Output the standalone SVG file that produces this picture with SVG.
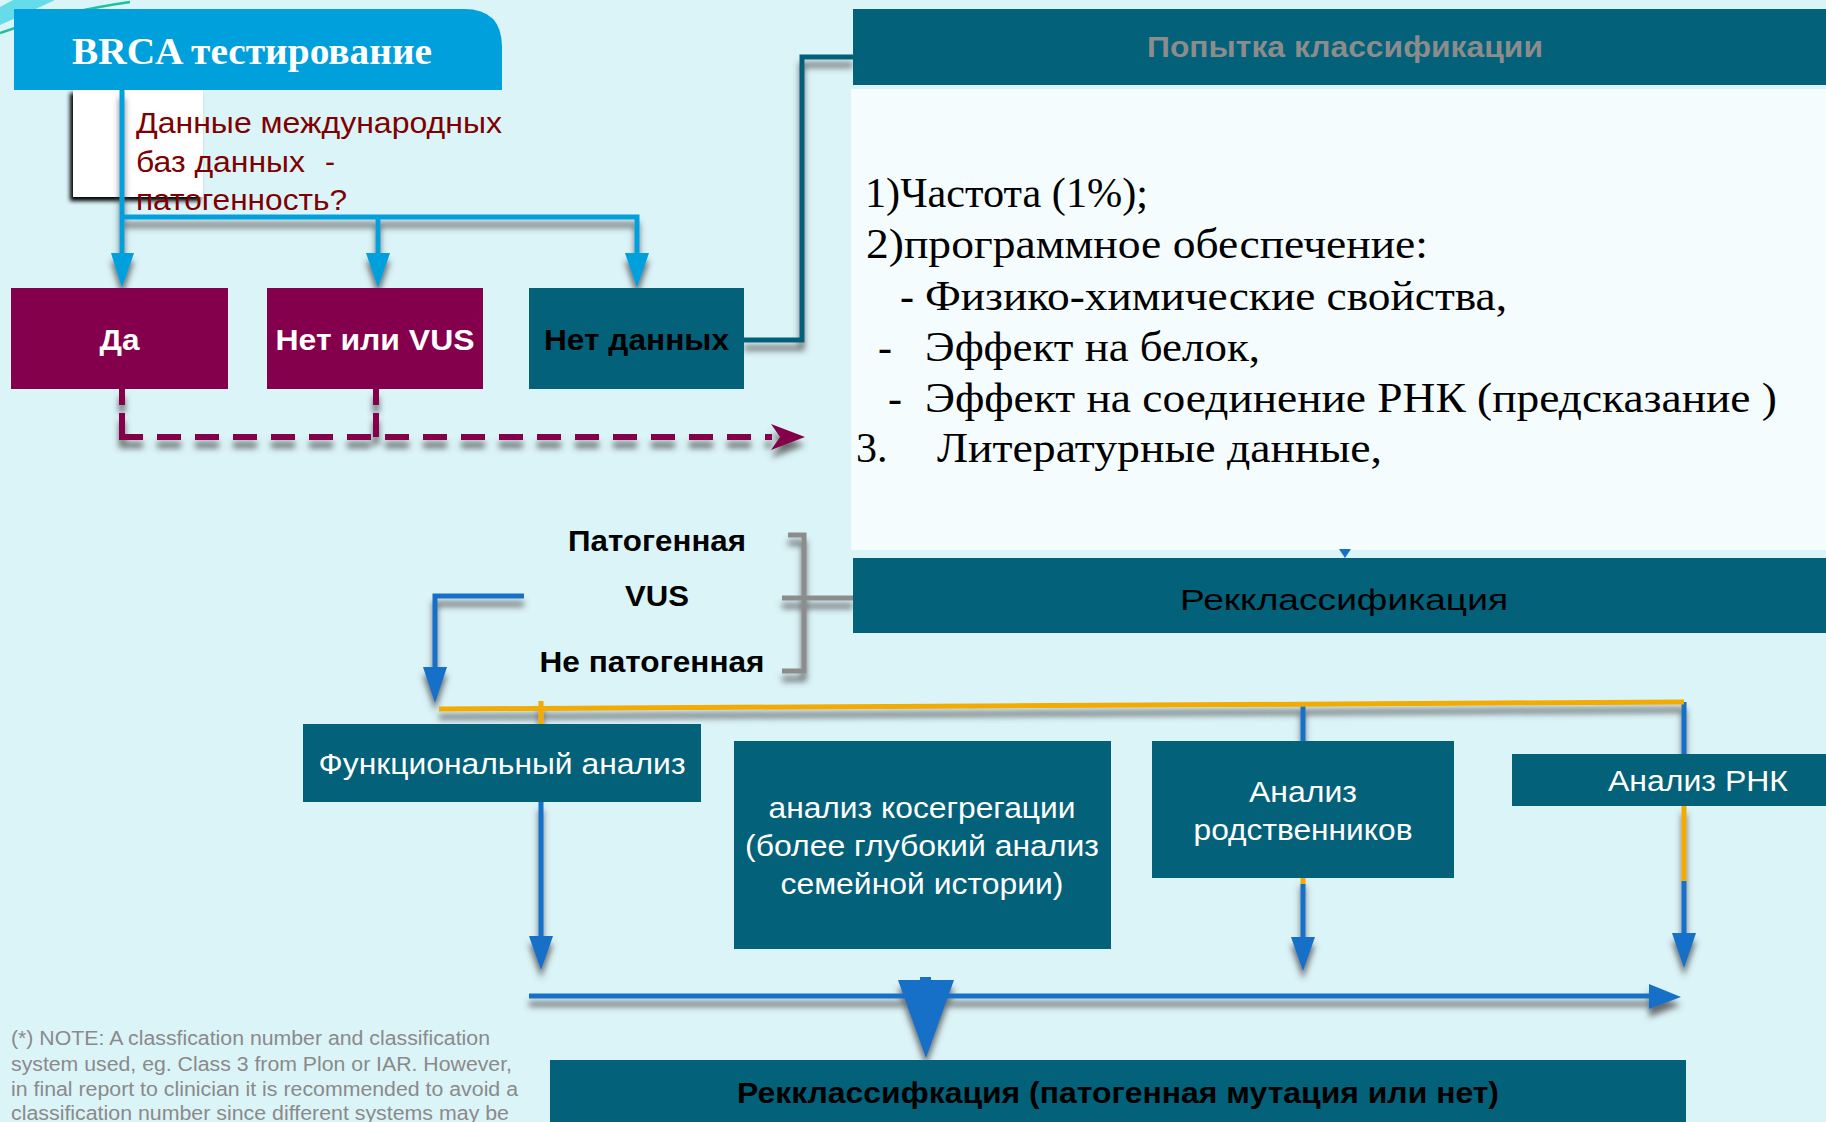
<svg xmlns="http://www.w3.org/2000/svg" width="1826" height="1122" viewBox="0 0 1826 1122">
<defs>
<style>
.bg{fill:#dbf4f8}
.mar{fill:#84004c}
.teal{fill:#03617a}
.sans{font-family:"Liberation Sans",Arial,sans-serif}
.serif{font-family:"Liberation Serif","Times New Roman",serif}
.wt{fill:#ffffff}
.bk{fill:#000000}
.lst{font-family:"Liberation Serif","Times New Roman",serif;font-size:42px;fill:#000}
.lbl{font-family:"Liberation Sans",Arial,sans-serif;font-size:30px;fill:#fff;text-anchor:middle}
.bold{font-weight:bold}
.cyan{stroke:#00a0dc;stroke-width:5;fill:none}
.blue{stroke:#1570c8;stroke-width:5;fill:none}
.orng{stroke:#f2ab00;stroke-width:5;fill:none}
.tl{stroke:#03617a;stroke-width:5;fill:none}
.gry{stroke:#8c8c8c;stroke-width:5;fill:none}
.dsh{stroke:#84004c;stroke-width:6;fill:none}
</style>
<filter id="sh" filterUnits="userSpaceOnUse" x="0" y="0" width="1826" height="1122">
<feGaussianBlur in="SourceAlpha" stdDeviation="3" result="b"/>
<feOffset in="b" dx="0" dy="8" result="o"/>
<feFlood flood-color="#4a4a4a" flood-opacity="0.8"/>
<feComposite in2="o" operator="in" result="s"/>
<feMerge><feMergeNode in="s"/><feMergeNode in="SourceGraphic"/></feMerge>
</filter>
<filter id="bl" filterUnits="userSpaceOnUse" x="0" y="0" width="400" height="300">
<feGaussianBlur stdDeviation="2"/>
</filter>
</defs>

<rect class="bg" x="0" y="0" width="1826" height="1122"/>

<!-- decoration top-left -->
<path d="M13,0 L55,0 Q25,14 0,25 L0,7 Z" fill="#66dbe9"/>
<path d="M0,33 Q60,12 130,2" stroke="#1fbf9f" stroke-width="2.5" fill="none"/>

<!-- white note card under header -->
<g id="card">
<rect x="70" y="93" width="130" height="108" fill="#000" filter="url(#bl)"/>
<rect x="73" y="90" width="130" height="107" fill="#ffffff"/>
</g>

<!-- right white panel -->
<rect id="panel" x="851" y="89" width="975" height="461" fill="#f4fcfd"/>

<!-- connectors -->
<g id="connectors">
<g filter="url(#sh)">
<path class="cyan" d="M122,90 V254 M122,217 H637 V254 M378,217 V254"/>
<polygon points="111,253 134,253 122,288" fill="#00a0dc"/>
<polygon points="366,253 390,253 378,288" fill="#00a0dc"/>
<polygon points="625,253 649,253 637,288" fill="#00a0dc"/>
</g>
<path class="tl" d="M744,340 H802 V57 H853" filter="url(#sh)"/>
<g filter="url(#sh)">
<path class="dsh" d="M122,389 V405 M122,413 V437 M376,389 V405 M376,413 V437"/>
<path class="dsh" d="M119,437 H772" stroke-dasharray="24 14"/>
<polygon points="771,424 805,437 771,450 780,437" fill="#84004c"/>
</g>
<path class="gry" d="M788,535 H804 V671 H782 M782,598 H853" filter="url(#sh)"/>
<g filter="url(#sh)">
<path class="blue" d="M524,596 H435 V668"/>
<polygon points="423,667 447,667 435,703" fill="#1570c8"/>
</g>
<g filter="url(#sh)">
<path class="blue" d="M1303,702 V741 M1684,702 V754"/>
<path class="orng" d="M439,709 L1684,702"/>
<path class="orng" d="M541,701 V724"/>
</g>
<g filter="url(#sh)">
<path class="blue" d="M541,802 V937"/>
<polygon points="529,936 553,936 541,970" fill="#1570c8"/>
<path class="orng" d="M1303,878 V885"/>
<path class="blue" d="M1303,884 V938"/>
<polygon points="1291,937 1315,937 1303,971" fill="#1570c8"/>
<path class="orng" d="M1684,806 V882"/>
<path class="blue" d="M1684,881 V934"/>
<polygon points="1672,933 1696,933 1684,968" fill="#1570c8"/>
</g>
<g filter="url(#sh)">
<path class="blue" d="M529,996 H1651"/>
<polygon points="1649,984 1681,997 1649,1009" fill="#1570c8"/>
<rect x="920" y="977" width="11" height="5" fill="#1570c8"/>
<polygon points="898,980 954,980 926,1058" fill="#1570c8"/>
</g>
<polygon points="1339,549 1351,549 1345,558" fill="#1570c8"/>
</g>

<!-- header BRCA -->
<g id="brca">
<path d="M14,9 H464 Q502,9 502,47 V90 H14 Z" fill="#00a0dc"/>
<text x="72" y="64" class="serif bold wt" font-size="38" textLength="360" lengthAdjust="spacingAndGlyphs">BRCA тестирование</text>
</g>

<!-- question text -->
<g id="question" class="sans" font-size="30" fill="#7f0000">
<text x="136" y="133" textLength="366" lengthAdjust="spacingAndGlyphs">Данные международных</text>
<text x="136" y="172" textLength="169" lengthAdjust="spacingAndGlyphs">баз данных</text>
<text x="325" y="172">-</text>
<text x="136" y="210" textLength="211" lengthAdjust="spacingAndGlyphs">патогенность?</text>
</g>

<g id="da">
<rect class="mar" x="11" y="288" width="217" height="101"/>
<text x="119.5" y="350" class="lbl bold" font-size="31" textLength="40" lengthAdjust="spacingAndGlyphs">Да</text>
</g>
<g id="net-vus">
<rect class="mar" x="267" y="288" width="216" height="101"/>
<text x="375" y="350" class="lbl bold" font-size="31" textLength="199" lengthAdjust="spacingAndGlyphs">Нет или VUS</text>
</g>
<g id="net-dannyh">
<rect class="teal" x="529" y="288" width="215" height="101"/>
<text x="636.5" y="350" class="lbl bold" font-size="31" fill="#000" style="fill:#000" textLength="185" lengthAdjust="spacingAndGlyphs">Нет данных</text>
</g>

<g id="popytka">
<rect class="teal" x="853" y="9" width="973" height="76"/>
<text x="1345" y="57" class="lbl bold" style="fill:#8c8c8c" textLength="396" lengthAdjust="spacingAndGlyphs">Попытка классификации</text>
</g>

<g id="list">
<text class="lst" x="865" y="207" textLength="283" lengthAdjust="spacingAndGlyphs">1)Частота (1%);</text>
<text class="lst" x="866" y="258" textLength="562" lengthAdjust="spacingAndGlyphs">2)программное обеспечение:</text>
<text class="lst" x="900" y="310">-</text>
<text class="lst" x="925" y="310" textLength="582" lengthAdjust="spacingAndGlyphs">Физико-химические свойства,</text>
<text class="lst" x="878" y="361">-</text>
<text class="lst" x="925" y="361" textLength="335" lengthAdjust="spacingAndGlyphs">Эффект на белок,</text>
<text class="lst" x="888" y="412">-</text>
<text class="lst" x="925" y="412" textLength="852" lengthAdjust="spacingAndGlyphs">Эффект на соединение РНК (предсказание )</text>
<text class="lst" x="856" y="462">3.</text>
<text class="lst" x="937" y="462" textLength="445" lengthAdjust="spacingAndGlyphs">Литературные данные,</text>
</g>

<g id="reklass">
<rect class="teal" x="853" y="558" width="973" height="75"/>
<text x="1344" y="610" class="lbl" font-size="36" style="fill:#000" textLength="328" lengthAdjust="spacingAndGlyphs">Рекклассификация</text>
</g>

<g id="outcomes" class="sans bold" font-size="30" fill="#000" text-anchor="middle">
<text x="657" y="551" textLength="178" lengthAdjust="spacingAndGlyphs">Патогенная</text>
<text x="657" y="606" textLength="64" lengthAdjust="spacingAndGlyphs">VUS</text>
<text x="652" y="672" textLength="225" lengthAdjust="spacingAndGlyphs">Не патогенная</text>
</g>

<g id="func">
<rect class="teal" x="303" y="724" width="398" height="78"/>
<text x="502" y="774" class="lbl" textLength="367" lengthAdjust="spacingAndGlyphs">Функциональный анализ</text>
</g>

<g id="coseg">
<rect class="teal" x="734" y="741" width="377" height="208"/>
<text x="922" y="818" class="lbl" textLength="307" lengthAdjust="spacingAndGlyphs">анализ косегрегации</text>
<text x="922" y="856" class="lbl" textLength="354" lengthAdjust="spacingAndGlyphs">(более глубокий анализ</text>
<text x="922" y="894" class="lbl" textLength="283" lengthAdjust="spacingAndGlyphs">семейной истории)</text>
</g>

<g id="relatives">
<rect class="teal" x="1152" y="741" width="302" height="137"/>
<text x="1303" y="802" class="lbl" textLength="108" lengthAdjust="spacingAndGlyphs">Анализ</text>
<text x="1303" y="840" class="lbl" textLength="219" lengthAdjust="spacingAndGlyphs">родственников</text>
</g>

<g id="rna">
<rect class="teal" x="1512" y="754" width="314" height="52"/>
<text x="1698" y="791" class="lbl" textLength="180" lengthAdjust="spacingAndGlyphs">Анализ РНК</text>
</g>

<g id="final">
<rect class="teal" x="550" y="1060" width="1136" height="62"/>
<text x="737" y="1103" class="sans bold" font-size="29" fill="#000" textLength="762" lengthAdjust="spacingAndGlyphs">Рекклассифкация (патогенная мутация или нет)</text>
</g>

<g id="note" class="sans" font-size="19.5" fill="#8a8a8a">
<text x="11" y="1045" textLength="479" lengthAdjust="spacingAndGlyphs">(*) NOTE: A classfication number and classification</text>
<text x="11" y="1071" textLength="501" lengthAdjust="spacingAndGlyphs">system used, eg. Class 3 from Plon or IAR. However,</text>
<text x="11" y="1096" textLength="507" lengthAdjust="spacingAndGlyphs">in final report to clinician it is recommended to avoid a</text>
<text x="11" y="1120" textLength="498" lengthAdjust="spacingAndGlyphs">classification number since different systems may be</text>
</g>
</svg>
